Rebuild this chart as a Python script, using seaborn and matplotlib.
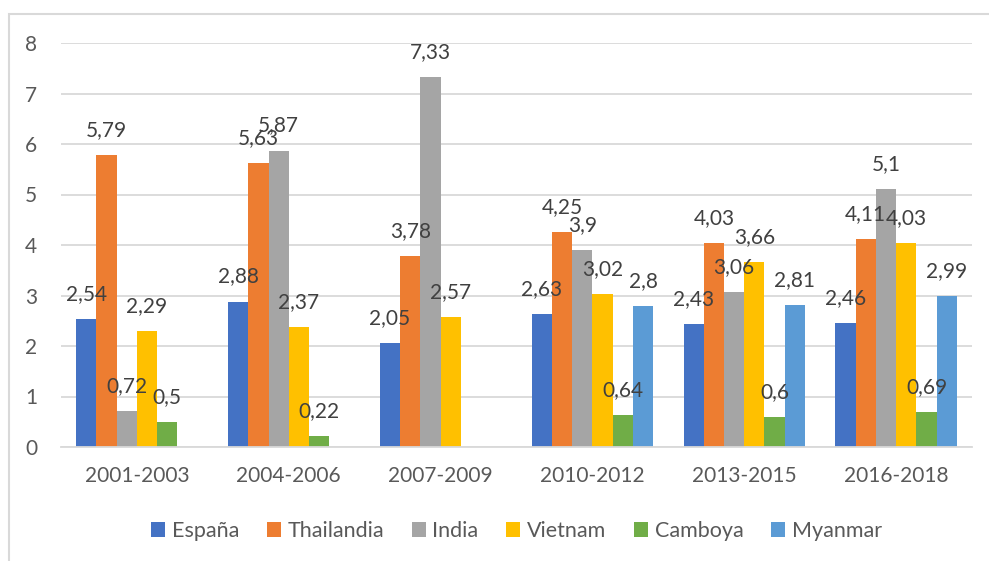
import numpy as np
import pandas as pd
import matplotlib
matplotlib.use("Agg")
import matplotlib.pyplot as plt
import seaborn as sns
from matplotlib.patches import Rectangle

categories = ["2001-2003", "2004-2006", "2007-2009", "2010-2012", "2013-2015", "2016-2018"]
series_names = ["España", "Thailandia", "India", "Vietnam", "Camboya", "Myanmar"]
espana = [2.54, 2.88, 2.05, 2.63, 2.43, 2.46]
thailandia = [5.79, 5.63, 3.78, 4.25, 4.03, 4.11]
india = [0.72, 5.87, 7.33, 3.9, 3.06, 5.1]
vietnam = [2.29, 2.37, 2.57, 3.02, 3.66, 4.03]
camboya = [0.5, 0.22, np.nan, 0.64, 0.6, 0.69]
myanmar = [np.nan, np.nan, np.nan, 2.8, 2.81, 2.99]
yticks = [0, 1, 2, 3, 4, 5, 6, 7, 8]

colors = ["#4472C4", "#ED7D31", "#A5A5A5", "#FFC000", "#70AD47", "#5B9BD5"]

rows = []
for name, vals in zip(series_names, [espana, thailandia, india, vietnam, camboya, myanmar]):
    for c, v in zip(categories, vals):
        rows.append({"Periodo": c, "Pais": name, "Valor": v})
df = pd.DataFrame(rows)

sns.set_theme(style="white")
plt.rcParams["font.family"] = ["Lato", "DejaVu Sans"]

fig = plt.figure(figsize=(9.89, 5.61), dpi=100)
ax = fig.add_axes([61 / 989, 1 - 447 / 561, (972 - 61) / 989, (447 - 43) / 561])

sns.barplot(data=df.dropna(), x="Periodo", y="Valor", hue="Pais", order=categories,
            hue_order=series_names, palette=colors, width=0.8, ax=ax,
            saturation=1, errorbar=None, edgecolor="none", linewidth=0)

ax.set_ylim(0, 8)
ax.set_yticks(yticks)
ax.set_yticklabels([str(t) for t in yticks])
ax.set_xlim(-0.5, len(categories) - 0.5)
ax.grid(axis="y", color="#D9D9D9", linewidth=1.3)
ax.set_axisbelow(True)
for s in ["top", "right", "left"]:
    ax.spines[s].set_visible(False)
ax.spines["bottom"].set_color("#D9D9D9")
ax.spines["bottom"].set_linewidth(1.3)
ax.set_xlabel("")
ax.set_ylabel("")
ax.tick_params(axis="y", length=0, pad=17, labelsize=15, labelcolor="#595959")
ax.tick_params(axis="x", length=0, pad=14, labelsize=15, labelcolor="#595959")

for cont in ax.containers:
    for bar in cont:
        h = bar.get_height()
        if np.isnan(h):
            continue
        lab = f"{h:g}".replace(".", ",")
        ax.annotate(lab, (bar.get_x() + bar.get_width() / 2, h), xytext=(0, 18),
                    textcoords="offset points", ha="center", va="center",
                    fontsize=15, color="#404040")

pos = ax.get_position()
leg = ax.legend(loc="center", bbox_to_anchor=(0.5, (1 - 531 / 561 - pos.y0) / pos.height),
                ncol=6, frameon=False, fontsize=15.5, handlelength=0.65, handleheight=0.65,
                handletextpad=0.3, columnspacing=1.3, labelcolor="#595959")

fig.add_artist(Rectangle((8.5 / 989, -0.1), 1.2, 1 - 13.5 / 561 + 0.1, transform=fig.transFigure,
                         fill=False, edgecolor="#D9D9D9", linewidth=1.5))

fig.savefig("out.png", dpi=100)
